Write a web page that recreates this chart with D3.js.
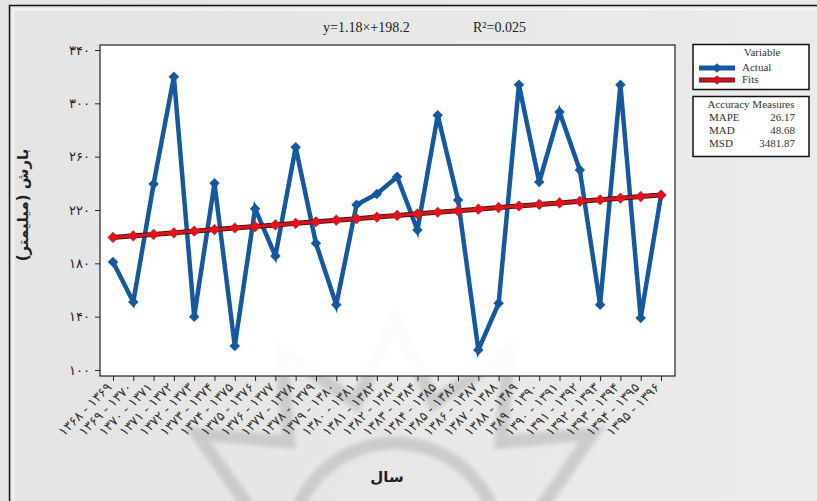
<!DOCTYPE html>
<html>
<head>
<meta charset="utf-8">
<script src="https://cdn.jsdelivr.net/npm/d3@7"></script>
<style>
  body { margin: 0; background: #fff; }
  svg text { font-family: "DejaVu Sans", sans-serif; }
</style>
</head>
<body>
<div id="chart"></div>
<script>
// hydrological years, rainfall (mm)
var years = ["۱۳۶۸-۱۳۶۹", "۱۳۶۹-۱۳۷۰", "۱۳۷۰-۱۳۷۱", "۱۳۷۱-۱۳۷۲", "۱۳۷۲-۱۳۷۳", "۱۳۷۳-۱۳۷۴",
    "۱۳۷۴-۱۳۷۵", "۱۳۷۵-۱۳۷۶", "۱۳۷۶-۱۳۷۷", "۱۳۷۷-۱۳۷۸", "۱۳۷۸-۱۳۷۹", "۱۳۷۹-۱۳۸۰",
    "۱۳۸۰-۱۳۸۱", "۱۳۸۱-۱۳۸۲", "۱۳۸۲-۱۳۸۳", "۱۳۸۳-۱۳۸۴", "۱۳۸۴-۱۳۸۵", "۱۳۸۵-۱۳۸۶",
    "۱۳۸۶-۱۳۸۷", "۱۳۸۷-۱۳۸۸", "۱۳۸۸-۱۳۸۹", "۱۳۸۹-۱۳۹۰", "۱۳۹۰-۱۳۹۱", "۱۳۹۱-۱۳۹۲",
    "۱۳۹۲-۱۳۹۳", "۱۳۹۳-۱۳۹۴", "۱۳۹۴-۱۳۹۵", "۱۳۹۵-۱۳۹۶"];
var actual = [181, 151, 239.5, 320, 140, 240, 118, 221, 185.5, 267, 195, 149, 224, 232,
    245, 205, 291, 227.5, 115, 150, 314, 241, 293.5, 250, 149, 314, 139, 231];
var fits = [199.4, 200.6, 201.7, 202.9, 204.1, 205.3, 206.5, 207.6, 208.8, 210.0, 211.2, 212.4,
    213.5, 214.7, 215.9, 217.1, 218.3, 219.4, 220.6, 221.8, 223.0, 224.2, 225.3, 226.5,
    227.7, 228.9, 230.1, 231.2];
var yTicks = [100, 140, 180, 220, 260, 300, 340];
var accNames = ["MAPE", "MAD", "MSD"];
var accValues = ["26.17", "48.68", "3481.87"];

var W = 817, H = 501;
var svg = d3.select("#chart").append("svg")
    .attr("width", W)
    .attr("height", H);

var defs = svg.append("defs");

// page background
var grad = defs.append("linearGradient")
    .attr("id", "bg").attr("x1", 0).attr("y1", 0).attr("x2", 1).attr("y2", 0);
grad.append("stop").attr("offset", "0%").attr("stop-color", "#e4e4e4");
grad.append("stop").attr("offset", "100%").attr("stop-color", "#ebebeb");
svg.append("rect").attr("width", W).attr("height", H).style("fill", "url(#bg)");
svg.append("path").attr("d", "M9.5," + H + "V5.5H" + W)
    .style("fill", "none").style("stroke", "#111").style("stroke-width", 1.5);
svg.append("path").attr("d", "M13.5," + H + "V9.5H" + W)
    .style("fill", "none").style("stroke", "#f6f6f6").style("stroke-width", 2);

var plot = { left: 100, top: 45, right: 675, bottom: 376 };

defs.append("clipPath").attr("id", "plotClip").append("rect")
    .attr("x", plot.left).attr("y", plot.top)
    .attr("width", plot.right - plot.left).attr("height", plot.bottom - plot.top);
defs.append("filter").attr("id", "soft").append("feGaussianBlur").attr("stdDeviation", 2);

// faint logo watermark (12 point star)
function starPath(cx, cy, r1, r2, n) {
    var pts = [];
    for (var k = 0; k < n * 2; k++) {
        var a = Math.PI * k / n - Math.PI / 2;
        var r = k % 2 ? r2 : r1;
        pts.push([cx + r * Math.cos(a), cy + r * Math.sin(a)]);
    }
    return "M" + pts.join("L") + "Z";
}
function drawMark(g) {
    g.append("path").attr("d", starPath(395, 548, 228, 150, 12))
        .style("fill", "none").style("stroke", "#aaa").style("stroke-width", 13)
        .style("stroke-linejoin", "miter");
    g.append("circle").attr("cx", 395).attr("cy", 548).attr("r", 105)
        .style("fill", "none").style("stroke", "#aaa").style("stroke-width", 13);
}
drawMark(svg.append("g").style("opacity", 0.45).attr("filter", "url(#soft)"));

var x = d3.scalePoint().domain(years).range([113, 661]);
var y = d3.scaleLinear().domain([95.5, 343.75]).range([plot.bottom, plot.top]);

function toFa(n) {
    return String(n).replace(/[0-9]/g, function(c) { return "۰۱۲۳۴۵۶۷۸۹"[+c]; });
}

// plot frame
svg.append("rect")
    .attr("x", plot.left).attr("y", plot.top)
    .attr("width", plot.right - plot.left).attr("height", plot.bottom - plot.top)
    .style("fill", "#fff").style("stroke", "#222").style("stroke-width", 1.2);
drawMark(svg.append("g").attr("clip-path", "url(#plotClip)").style("opacity", 0.04));

// y axis
var yAxis = svg.append("g")
    .attr("transform", "translate(" + plot.left + ",0)")
    .call(d3.axisLeft(y).tickValues(yTicks).tickSize(5).tickFormat(toFa));
yAxis.select(".domain").remove();
yAxis.selectAll("line").style("stroke", "#222");
yAxis.selectAll("text").attr("x", -10).style("font-size", "13px").style("fill", "#222");

// x axis
var xAxis = svg.append("g")
    .attr("transform", "translate(0," + plot.bottom + ")")
    .call(d3.axisBottom(x).tickSize(5).tickSizeOuter(0).tickFormat(function(d) { return d.replace("-", " - "); }));
xAxis.select(".domain").remove();
xAxis.selectAll("line").style("stroke", "#222");
xAxis.selectAll("text")
    .attr("direction", "ltr")
    .attr("text-anchor", "end")
    .attr("x", 0).attr("y", 0).attr("dy", 0)
    .attr("transform", "translate(-1,12) rotate(-45)")
    .style("font-size", "13px")
    .style("letter-spacing", "0.8px")
    .style("fill", "#333");

// lines
var line = d3.line()
    .x(function(d, i) { return x(years[i]); })
    .y(function(d) { return y(d); });

svg.append("path").datum(actual).attr("d", line)
    .style("fill", "none").style("stroke", "#15589e").style("stroke-width", 4.5)
    .style("stroke-linejoin", "miter");

svg.append("path").datum(fits).attr("d", line)
    .style("fill", "none").style("stroke", "#5a1012").style("stroke-width", 5);
svg.append("path").datum(fits).attr("d", line)
    .style("fill", "none").style("stroke", "#d7141c").style("stroke-width", 3);

var diamond = d3.symbol().type(d3.symbolDiamond2);

svg.append("g").selectAll("path")
    .data(actual).enter().append("path")
    .attr("transform", function(d, i) { return "translate(" + x(years[i]) + "," + y(d) + ")"; })
    .attr("d", diamond.size(70)())
    .style("fill", "#15589e");

svg.append("g").selectAll("path")
    .data(fits).enter().append("path")
    .attr("transform", function(d, i) { return "translate(" + x(years[i]) + "," + y(d) + ")"; })
    .attr("d", diamond.size(80)())
    .style("fill", "#e0141c");

// equation
svg.append("text").attr("x", 323).attr("y", 32)
    .style("font-family", "Liberation Serif, serif").style("font-size", "14px").style("fill", "#222")
    .text("y=1.18×+198.2");
svg.append("text").attr("x", 473).attr("y", 32)
    .style("font-family", "Liberation Serif, serif").style("font-size", "14px").style("fill", "#222")
    .text("R²=0.025");

// legend
var legend = svg.append("g");
legend.append("rect").attr("x", 693).attr("y", 44.5).attr("width", 116).attr("height", 45)
    .style("fill", "#fff").style("stroke", "#111").style("stroke-width", 1.5);
legend.append("text").attr("x", 762).attr("y", 56).attr("text-anchor", "middle")
    .style("font-family", "Liberation Serif, serif").style("font-size", "11px").style("fill", "#333").text("Variable");

var legendItems = [
    { name: "Actual", color: "#15589e", edge: "#15589e" },
    { name: "Fits", color: "#d7141c", edge: "#5a1012" }
];
legendItems.forEach(function(d, i) {
    var ly = 68 + i * 12;
    legend.append("line").attr("x1", 699).attr("x2", 735).attr("y1", ly).attr("y2", ly)
        .style("stroke", d.edge).style("stroke-width", 5);
    legend.append("line").attr("x1", 699).attr("x2", 735).attr("y1", ly).attr("y2", ly)
        .style("stroke", d.color).style("stroke-width", 3);
    legend.append("path").attr("transform", "translate(717," + ly + ")")
        .attr("d", diamond.size(60)()).style("fill", d.color);
    legend.append("text").attr("x", 742).attr("y", ly + 3)
        .style("font-family", "Liberation Serif, serif").style("font-size", "11px").style("fill", "#333").text(d.name);
});

legend.append("rect").attr("x", 693).attr("y", 96.5).attr("width", 116).attr("height", 60)
    .style("fill", "#fff").style("stroke", "#111").style("stroke-width", 1.5);
legend.append("text").attr("x", 751).attr("y", 108).attr("text-anchor", "middle")
    .style("font-family", "Liberation Serif, serif").style("font-size", "11px").style("fill", "#333").text("Accuracy Measures");
accNames.forEach(function(n, i) {
    legend.append("text").attr("x", 709).attr("y", 121 + i * 13)
        .style("font-family", "Liberation Serif, serif").style("font-size", "11px").style("fill", "#333").text(n);
    legend.append("text").attr("x", 795).attr("y", 121 + i * 13).attr("text-anchor", "end")
        .style("font-family", "Liberation Serif, serif").style("font-size", "11px").style("fill", "#333").text(accValues[i]);
});

// axis titles
svg.append("text")
    .attr("transform", "translate(28,205) rotate(-90)")
    .attr("text-anchor", "middle")
    .attr("direction", "rtl")
    .style("font-size", "15px").style("font-weight", "bold").style("fill", "#222")
    .text("بارش (میلیمتر)");

svg.append("text")
    .attr("x", 387).attr("y", 482)
    .attr("text-anchor", "middle")
    .attr("direction", "rtl")
    .style("font-size", "15px").style("font-weight", "bold").style("fill", "#222")
    .text("سال");
</script>
</body>
</html>
